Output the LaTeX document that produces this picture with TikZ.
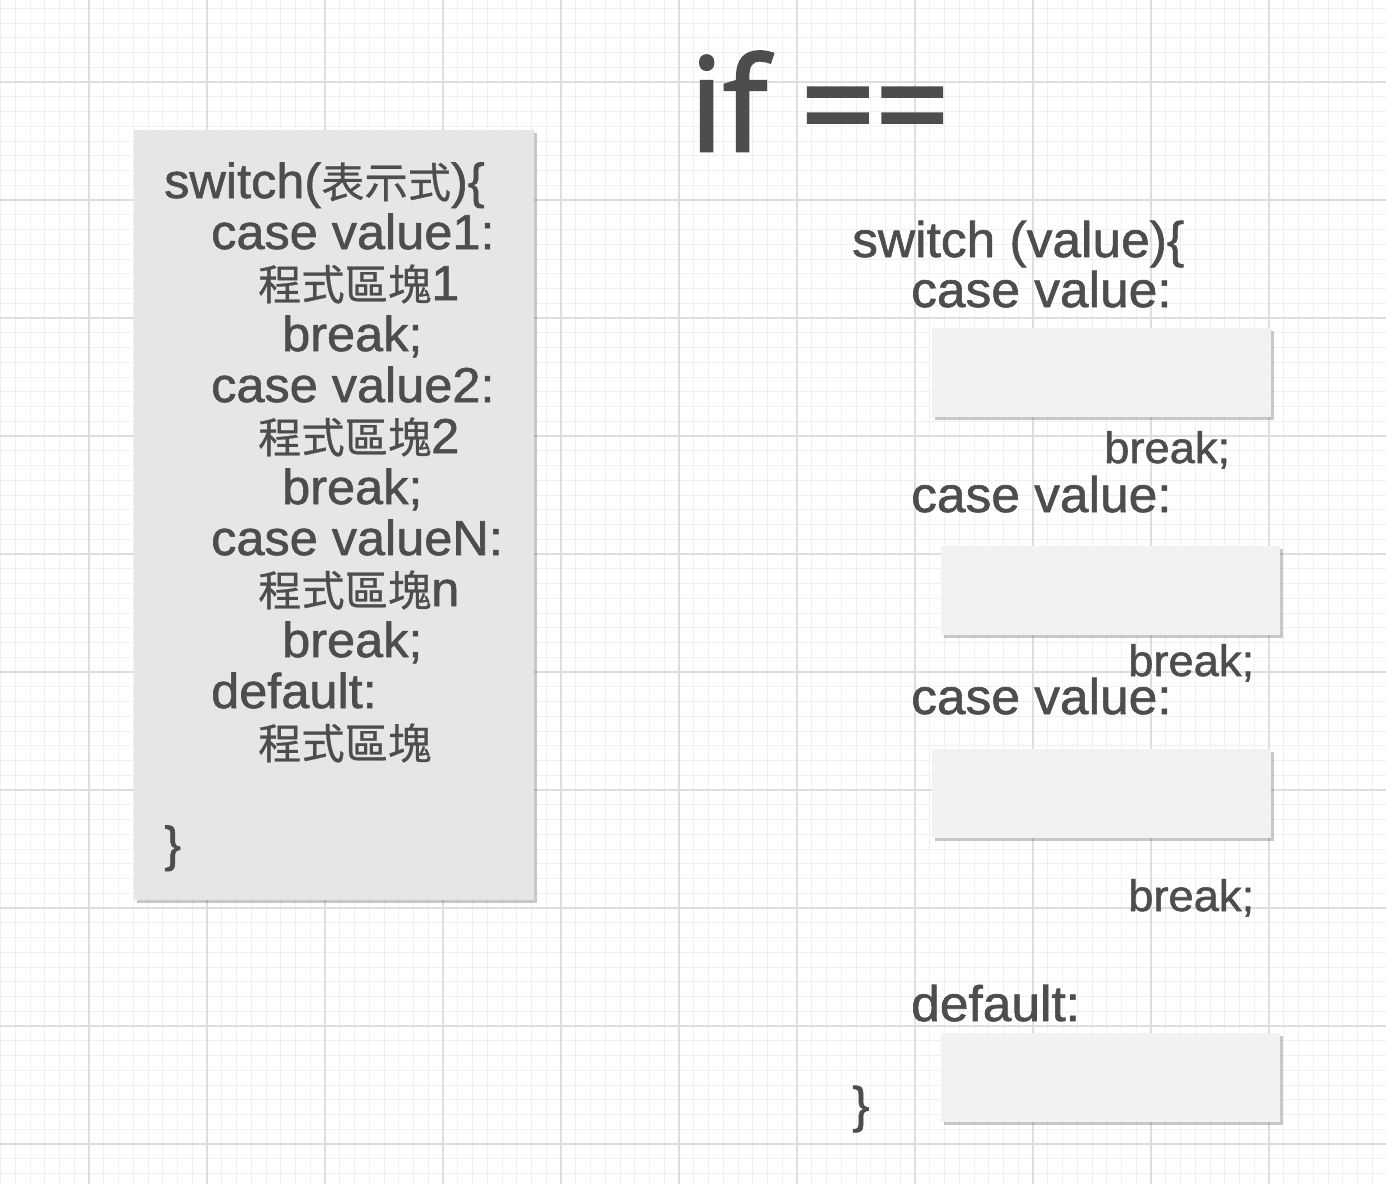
\documentclass[tikz,border=0pt]{standalone}
\usepackage{fontspec}
\setmainfont{Liberation Sans}[FakeStretch=1.03,FakeBold=1.2]
\newfontfamily\cjk{Noto Sans CJK TC}[FakeStretch=1.03,FakeBold=0.6]
\newfontfamily\ifont{Open Sans}[FakeBold=2.2]
\usetikzlibrary{shadows}
\definecolor{txt}{HTML}{4D4D4D}
\definecolor{gminor}{HTML}{F0F0F0}
\definecolor{gmajor}{HTML}{DEDEDE}
\definecolor{boxL}{HTML}{E6E6E6}
\definecolor{boxR}{HTML}{F2F2F2}
\newcommand{\cj}[1]{{\fontsize{42}{50}\cjk #1}}
\begin{document}
\begin{tikzpicture}[x=1pt,y=-1pt,
  minorline/.style={draw=gminor,line width=1pt},
  majorline/.style={draw=gmajor,line width=1.2pt},
  panel/.style={fill=#1, draw=none, inner sep=0pt, anchor=north west,
    drop shadow={shadow xshift=3pt,shadow yshift=-3pt,opacity=0.3,fill=black!70}},
  code/.style={anchor=base west, inner sep=0pt, text=txt, font=\fontsize{50}{60}\selectfont},
  codeleft/.style={anchor=base west, inner sep=0pt, text=txt, font=\fontsize{49}{58}\selectfont},
  codesmall/.style={anchor=base west, inner sep=0pt, text=txt, font=\fontsize{44}{52}\selectfont},
]
\useasboundingbox (0,0) rectangle (1386,1184);
\fill[white] (0,0) rectangle (1386,1184);
% grid
\foreach \i in {0,...,94} {\draw[minorline] ({0.5+14.75*\i},0) -- ({0.5+14.75*\i},1184);}
\foreach \j in {0,...,80} {\draw[minorline] (0,{8.25+14.75*\j}) -- (1386,{8.25+14.75*\j});}
\foreach \k in {0,...,10} {\draw[majorline] ({89+118*\k},0) -- ({89+118*\k},1184);}
\foreach \k in {0,...,9} {\draw[majorline] (0,{82+118*\k}) -- (1386,{82+118*\k});}

% left panel
\node[panel=boxL, minimum width=400pt, minimum height=770pt] (lbox) at (134,130) {};
\node[codeleft] (l1) at (164,198) {switch(\cj{表示式})\{};
\node[codeleft] (l2) at (211,249) {case value1:};
\node[codeleft] (l3) at (258,300) {\cj{程式區塊}1};
\node[codeleft] (l4) at (282,351) {break;};
\node[codeleft] (l5) at (211,402) {case value2:};
\node[codeleft] (l6) at (258,453) {\cj{程式區塊}2};
\node[codeleft] (l7) at (282,504) {break;};
\node[codeleft] (l8) at (211,555) {case valueN:};
\node[codeleft] (l9) at (258,606) {\cj{程式區塊}n};
\node[codeleft] (l10) at (282,657) {break;};
\node[codeleft] (l11) at (211,708) {default:};
\node[codeleft] (l12) at (258,759) {\cj{程式區塊}};
\node[codeleft] (l13) at (164,861) {\}};

% title
\node[anchor=base west, inner sep=0pt, text=txt, font=\ifont\fontsize{130}{150}\selectfont] (title) at (690,151) {if ==};

% right side
\node[code] (r1) at (852,257) {switch (value)\{};
\node[code] (r2) at (911,307) {case value:};
\node[panel=boxR, minimum width=339pt, minimum height=89pt] (b1) at (932,328) {};
\node[codesmall] (r3) at (1104,463) {break;};
\node[code] (r4) at (911,512) {case value:};
\node[panel=boxR, minimum width=339pt, minimum height=89pt] (b2) at (941,546) {};
\node[codesmall] (r5) at (1128,676) {break;};
\node[code] (r6) at (911,714) {case value:};
\node[panel=boxR, minimum width=339pt, minimum height=89pt] (b3) at (932,749) {};
\node[codesmall] (r7) at (1128,911) {break;};
\node[code] (r8) at (911,1021) {default:};
\node[panel=boxR, minimum width=339pt, minimum height=89pt] (b4) at (941,1033) {};
\node[code] (r9) at (852,1122) {\}};
\end{tikzpicture}
\end{document}
